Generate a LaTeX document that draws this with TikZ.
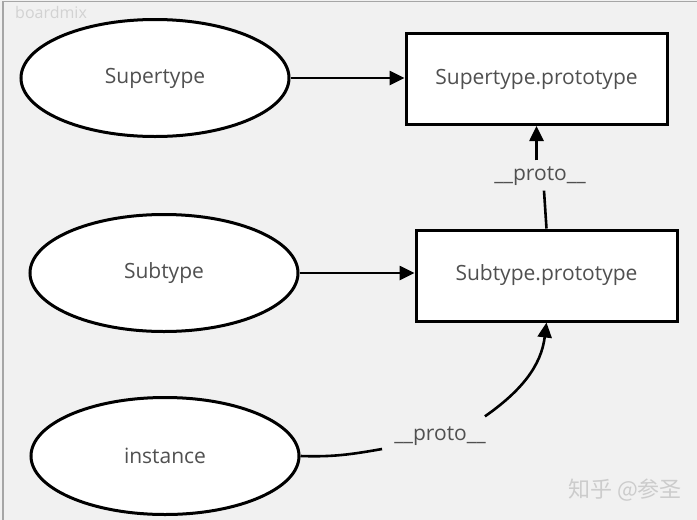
\documentclass[tikz,border=0pt]{standalone}
\usepackage{fontspec}
\setmainfont{Open Sans}
\newfontfamily\cjkfont{Noto Sans CJK SC}
\usetikzlibrary{shapes.geometric,arrows.meta}
\definecolor{bggray}{HTML}{F1F1F1}
\definecolor{txtgray}{HTML}{505050}
\tikzset{
  ell/.style={ellipse, draw=black, fill=white, line width=3pt, minimum width=268pt, minimum height=117pt, inner sep=0pt, text=txtgray, font=\fontsize{21}{24}\selectfont},
  rbox/.style={rectangle, draw=black, fill=white, line width=3pt, minimum width=261pt, minimum height=91pt, inner sep=0pt, text=txtgray, font=\fontsize{21}{24}\selectfont},
  lbl/.style={text=txtgray, font=\fontsize{21}{24}\selectfont, inner sep=2pt},
  conn/.style={line width=2.6pt, draw=black},
  arr/.style={conn, -{Triangle[length=15pt,width=14pt]}}
}
\begin{document}
\begin{tikzpicture}[x=1pt,y=-1pt]
\useasboundingbox (0,0) rectangle (697,520);
\fill[bggray] (0,0) rectangle (697,520);
\draw[gray!70, line width=1.5pt] (3,520) -- (3,1.5) -- (697,1.5);
\node[text=gray!35, font=\fontsize{16}{18}\selectfont, anchor=west, inner sep=0pt] (wm1) at (15,12) {boardmix};

\node[ell] (sup) at (155,78) {\raisebox{-2pt}{Supertype}};
\node[ell] (sub) at (164,273) {Subtype};
\node[ell] (inst) at (165,456) {instance};
\node[rbox] (supp) at (536.5,79) {Supertype.prototype};
\node[rbox] (subp) at (546.5,275.5) {Subtype.prototype};

\node[lbl] (p1) at (540,176) {\_\_proto\_\_};
\node[lbl] (p2) at (440,436) {\_\_proto\_\_};

\draw[arr] (sup.east) -- (supp.west |- sup.east);
\draw[arr] (sub.east) -- (subp.west |- sub.east);
\draw[conn] (subp.north) -- ([xshift=4pt,yshift=-3pt]p1.south);
\draw[arr] ([yshift=4pt]p1.north -| supp.south) -- (supp.south);
\draw[conn] (inst.east) to[out=-2,in=190] ([xshift=-10pt,yshift=-13pt]p2.west);
\draw[arr] ([xshift=-3pt,yshift=8pt]p2.north east) to[out=35,in=-97] (subp.south);

\node[text=gray!40, font=\cjkfont\fontsize{22}{24}\selectfont] (wm2) at (625,490) {知乎 @参圣};
\end{tikzpicture}
\end{document}
